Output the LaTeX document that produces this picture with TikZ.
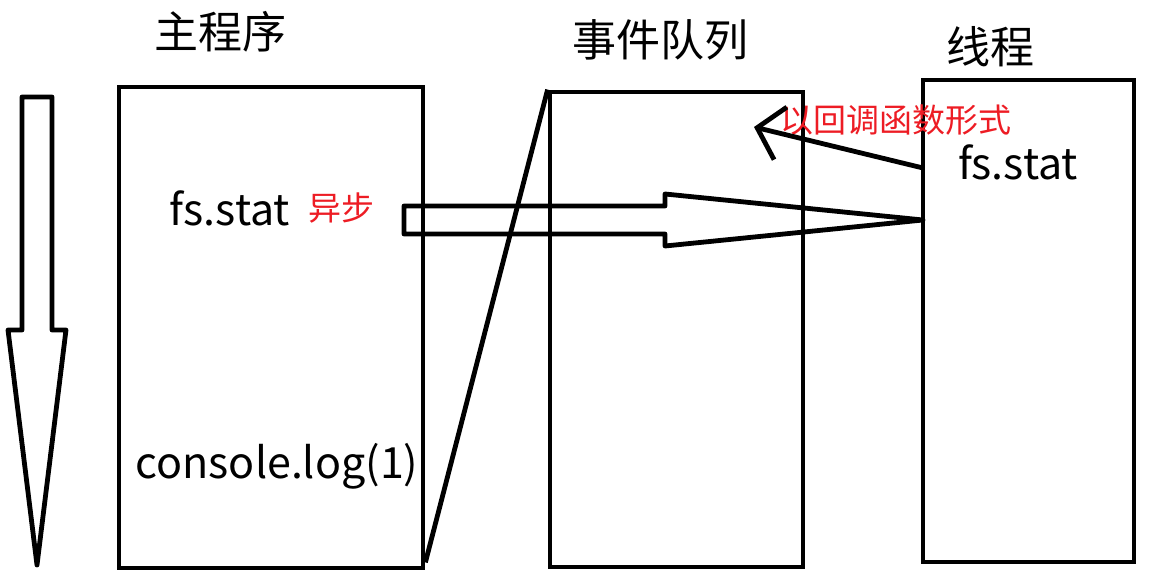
\documentclass[tikz,border=0pt]{standalone}
\usepackage{fontspec}
\usepackage{xcolor}
\usepackage{tikz}
\usetikzlibrary{arrows.meta,positioning}
\newfontfamily\cjk{Noto Sans CJK SC}
\definecolor{NoteRed}{HTML}{ED1C24}

\begin{document}
\begin{tikzpicture}[
 x=1pt,y=-1pt,
 line width=4.8pt,
 col/.style={draw,rectangle,minimum width=#1,inner sep=0pt},
 title/.style={font=\cjk\fontsize{44}{48}\selectfont,inner sep=0pt},
 code/.style={font=\cjk\fontsize{43}{47}\selectfont,inner sep=0pt},
 note/.style={font=\cjk\fontsize{33}{37}\selectfont,text=NoteRed,inner sep=0pt},
 block/.style={line join=round},
 cbarrow/.style={-{Straight Barb[length=24pt,width=54pt]}}
]
\useasboundingbox (0,0) rectangle (1149,583);
\node[col=304pt,minimum height=481pt] (main) at (271,327.5) {};
\node[col=253pt,minimum height=475pt] (queue) at (676.5,329.5) {};
\node[col=211pt,minimum height=482pt] (thread) at (1028.5,321) {};
\node[title] (t1) at (220,32) {主程序};
\node[title] (t2) at (660,40) {事件队列};
\node[title] (t3) at (990,47) {线程};
\node[code] (fs1) at (230,208) {fs.stat};
\node[note,right=14pt of fs1] (async) {异步};
\node[code] (log) at (277,466) {console.log(1)};
\node[code] (fs2) at (1018,162) {fs.stat};
\node[note] (cbtext) at (896,120) {以回调函数形式};
% time flow
\draw[block] (22,97) -- (52,97) -- (52,330) -- (66,330) -- (37,565) -- (8,330) -- (22,330) -- cycle;
% hand-off to thread
\draw[block] (404,206) -- (665,206) -- (665,194) -- (923,220) -- (665,246) -- (665,234) -- (404,234) -- cycle;
\draw ([yshift=8pt]main.south east) -- (queue.north west);
\coordinate (cbstart) at (923,168);
\coordinate (cbend) at (754,127);
\draw[cbarrow] (cbstart) -- (cbend);
\end{tikzpicture}
\end{document}
